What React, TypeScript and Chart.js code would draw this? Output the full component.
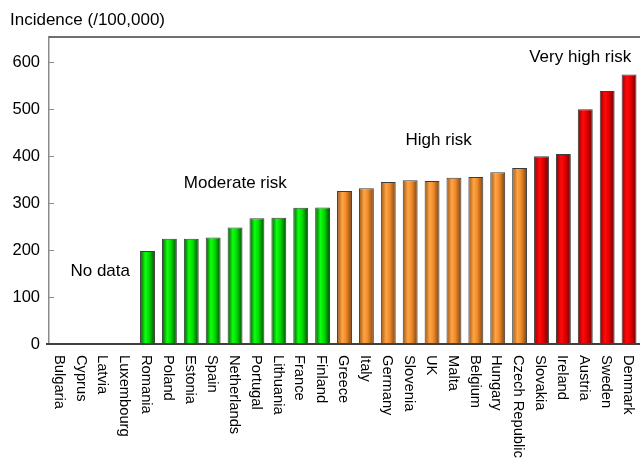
import React, { useEffect, useRef } from "react";
import { Chart, registerables } from "chart.js";

Chart.register(...registerables);

const countries = [
  "Bulgaria", "Cyprus", "Latvia", "Luxembourg", "Romania", "Poland", "Estonia",
  "Spain", "Netherlands", "Portugal", "Lithuania", "France", "Finland", "Greece",
  "Italy", "Germany", "Slovenia", "UK", "Malta", "Belgium", "Hungary",
  "Czech Republic", "Slovakia", "Ireland", "Austria", "Sweden", "Denmark",
];

const incidence: (number | null)[] = [
  null, null, null, null, 198, 224, 224, 227, 248, 268, 269, 290, 291, 326,
  332, 345, 349, 347, 354, 356, 366, 375, 400, 405, 500, 539, 574,
];

const riskGroup = [
  "none", "none", "none", "none",
  "moderate", "moderate", "moderate", "moderate", "moderate", "moderate", "moderate", "moderate", "moderate",
  "high", "high", "high", "high", "high", "high", "high", "high", "high",
  "veryhigh", "veryhigh", "veryhigh", "veryhigh", "veryhigh",
];

const yTicks = [0, 100, 200, 300, 400, 500, 600];
const yMax = 654;
const yTitle = "Incidence (/100,000)";

const groupLabels = ["No data", "Moderate risk", "High risk", "Very high risk"];
const groupLabelX = [1.84, 8.01, 17.3, 23.77];
const groupLabelY = [144, 333, 423, 601];

const FONT = "'Liberation Sans', Arial, Helvetica, sans-serif";
const BAR_PCT = 0.68;

const gradientStops: Record<string, [number, string][]> = {
  moderate: [[0, "#005a00"], [0.35, "#10ff10"], [0.6, "#00dd00"], [1, "#004800"]],
  high: [[0, "#9a5518"], [0.35, "#ffa545"], [0.6, "#f08a28"], [1, "#7a4212"]],
  veryhigh: [[0, "#900000"], [0.35, "#ff0a0a"], [0.6, "#e60000"], [1, "#6a0000"]],
  none: [[0, "#ffffff"], [1, "#ffffff"]],
};

const overlayPlugin = {
  id: "overlay",
  afterDraw(chart: any) {
    const ctx = chart.ctx as CanvasRenderingContext2D;
    const area = chart.chartArea;
    const xs = chart.scales.x;
    const ys = chart.scales.y;
    ctx.save();

    // top border
    ctx.strokeStyle = "#404040";
    ctx.lineWidth = 1.5;
    ctx.beginPath();
    ctx.moveTo(area.left, area.top);
    ctx.lineTo(area.right, area.top);
    ctx.stroke();

    // inward ticks
    ctx.strokeStyle = "#8c8c8c";
    ctx.lineWidth = 1;
    yTicks.forEach((v) => {
      const y = Math.round(ys.getPixelForValue(v)) + 0.5;
      ctx.beginPath();
      ctx.moveTo(area.left, y);
      ctx.lineTo(area.left + 5, y);
      ctx.stroke();
    });

    // zero line
    ctx.strokeStyle = "#404040";
    ctx.lineWidth = 2;
    const y0 = ys.getPixelForValue(0);
    ctx.beginPath();
    ctx.moveTo(area.left - 3, y0);
    ctx.lineTo(area.right, y0);
    ctx.stroke();

    // title
    ctx.fillStyle = "#000";
    ctx.font = `17px ${FONT}`;
    ctx.textAlign = "left";
    ctx.textBaseline = "alphabetic";
    ctx.fillText(yTitle, 10, 24.5);

    // group labels
    ctx.textAlign = "center";
    groupLabels.forEach((t, i) => {
      ctx.fillText(t, xs.getPixelForValue(groupLabelX[i]), ys.getPixelForValue(groupLabelY[i]));
    });

    // rotated category labels
    const fs = 14.7;
    ctx.font = `${fs}px ${FONT}`;
    ctx.textAlign = "left";
    ctx.textBaseline = "alphabetic";
    countries.forEach((c, i) => {
      const x = xs.getPixelForValue(i);
      ctx.save();
      ctx.translate(x, y0 + 11);
      ctx.rotate(Math.PI / 2);
      ctx.fillText(c, 0, 0.36 * fs);
      ctx.restore();
    });

    ctx.restore();
  },
};

export default function App() {
  const ref = useRef<HTMLCanvasElement>(null);

  useEffect(() => {
    if (!ref.current) return;
    const chart = new Chart(ref.current, {
      type: "bar",
      data: {
        labels: countries,
        datasets: [
          {
            data: incidence as any,
            backgroundColor: (c: any) => {
              if (c.type !== "data") return "#00cc00";
              const chart = c.chart;
              const xs = chart.scales?.x;
              const group = riskGroup[c.dataIndex];
              if (!xs || !chart.chartArea) return "#00cc00";
              const cx = xs.getPixelForValue(c.dataIndex);
              const w = (xs.width / countries.length) * BAR_PCT;
              const g = chart.ctx.createLinearGradient(cx - w / 2, 0, cx + w / 2, 0);
              gradientStops[group].forEach(([o, col]) => g.addColorStop(o, col));
              return g;
            },
            borderColor: "#3c3c3c",
            borderWidth: 1,
            barPercentage: BAR_PCT,
            categoryPercentage: 1,
          },
        ],
      },
      options: {
        responsive: false,
        animation: false,
        layout: { padding: { top: 37, left: 0, right: 0, bottom: 0 } },
        plugins: {
          legend: { display: false },
          tooltip: { enabled: false },
          title: { display: false },
        },
        scales: {
          x: {
            type: "category",
            offset: true,
            grid: { display: false },
            border: { display: false },
            ticks: { display: false },
            afterFit: (s: any) => {
              s.height = 115;
            },
          },
          y: {
            min: 0,
            max: yMax,
            grid: { display: false, drawTicks: false },
            border: { display: true, color: "#8c8c8c", width: 1.5 },
            ticks: {
              stepSize: 100,
              includeBounds: false,
              padding: 9,
              color: "#000",
              font: { family: FONT, size: 16.5 },
            },
            afterFit: (s: any) => {
              s.width = 49;
            },
          },
        },
      },
      plugins: [overlayPlugin],
    });
    return () => chart.destroy();
  }, []);

  return (
    <div style={{ position: "fixed", left: 0, top: 0, width: 640, height: 459, background: "#fff" }}>
      <canvas ref={ref} width={640} height={459} style={{ display: "block" }} />
    </div>
  );
}
